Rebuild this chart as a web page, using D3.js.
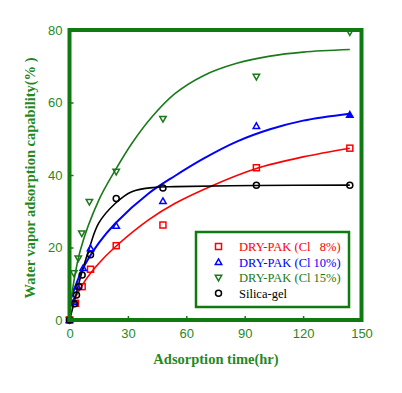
<!DOCTYPE html>
<html><head><meta charset="utf-8">
<script src="https://cdn.jsdelivr.net/npm/d3@7"></script>
<style>html,body{margin:0;padding:0;background:#fff;}svg{display:block;}</style>
</head><body>
<svg id="chart" width="402" height="393"></svg>
<script>
// ---- data ----
const xTicks = [0, 30, 60, 90, 120, 150];
const yTicks = [0, 20, 40, 60, 80];
const seriesNames = ["DRY-PAK (Cl   8%)", "DRY-PAK (Cl 10%)", "DRY-PAK (Cl 15%)", "Silica-gel"];
const seriesColors = ["#ff0000", "#0000ff", "#1a7a1a", "#000000"];
const seriesSymbols = ["square", "triUp", "triDown", "circle"];

// measured points [time(hr), capability(%)]
const cl8Points  = [[0,0],[3.1,4.6],[6.5,9.2],[10.8,14],[24,20.5],[48,26.2],[96,42],[144,47.4]];
const cl10Points = [[0,0],[2.2,5],[3.9,9.2],[7,14.3],[10.8,19.8],[24,26],[48,32.8],[96,53.5],[144,56.6]];
const cl15Points = [[0,0],[2.2,12.9],[4.5,17],[6.3,23.9],[10.2,32.6],[24,40.9],[48,55.5],[96,67.1],[144,79.4]];
const silicaPoints = [[0,0],[2.6,4.5],[3.6,6.9],[4.8,9.2],[6.5,12.4],[10.8,18],[24,33.5],[48,36.4],[96,37.2],[144,37.2]];

// fitted curves
const cl8Curve  = [[0.5,3.7],[8.2,11],[15,15.6],[23.6,20.2],[40.6,27.6],[54.3,32.2],[73.9,37.2],[96,41.8],[120,45],[144,47.4]];
const cl10Curve = [[0.5,5.5],[6.5,13.8],[15,21.2],[23.6,26.7],[40.6,34.9],[54.3,39.8],[68.8,44.5],[85.9,49.2],[103,52.6],[120,55],[144,56.9]];
const cl15Curve = [[0.5,4.6],[5.6,19.3],[15,33],[23.6,41.4],[32,48.7],[42.3,56],[54.3,62.5],[68.8,67.4],[85.9,70.8],[103,72.8],[120,73.9],[144,74.6]];
const silicaCurve = [[0.3,0.5],[1.4,2.8],[4.8,10.1],[9.9,19.3],[15,26.7],[23.6,32.2],[32,35.4],[44,36.6],[54.3,36.8],[96,37.1],[144,37.2]];

const allPoints = [cl8Points, cl10Points, cl15Points, silicaPoints];
const allCurves = [cl8Curve, cl10Curve, cl15Curve, silicaCurve];

// ---- layout ----
const axisGreen = "#0f7a0f";
const textGreen = "#1f8a1f";
const svg = d3.select("#chart");
const x = d3.scaleLinear().domain([0, 150]).range([69.5, 361.5]);
const y = d3.scaleLinear().domain([0, 80]).range([320, 30]);

// curves
const line = d3.line().x(d => x(d[0])).y(d => y(d[1])).curve(d3.curveCatmullRom.alpha(0.5));
allCurves.forEach((c, i) => {
  svg.append("path").attr("d", line(c)).attr("fill", "none")
    .attr("stroke", seriesColors[i]).attr("stroke-width", i === 1 ? 2 : 1.6);
});

// markers
function drawSymbol(g, type, cx, cy, color, filled) {
  const s = 3;
  let el;
  if (type === "square") {
    el = g.append("rect").attr("x", cx - s).attr("y", cy - s).attr("width", 2 * s).attr("height", 2 * s);
  } else if (type === "circle") {
    el = g.append("circle").attr("cx", cx).attr("cy", cy).attr("r", 3);
  } else if (type === "triUp") {
    el = g.append("path").attr("d", `M${cx},${cy - 3.2}L${cx + 3.2},${cy + 2.4}L${cx - 3.2},${cy + 2.4}Z`);
  } else {
    el = g.append("path").attr("d", `M${cx},${cy + 3.2}L${cx + 3.2},${cy - 2.4}L${cx - 3.2},${cy - 2.4}Z`);
  }
  el.attr("fill", filled ? color : "none").attr("stroke", color).attr("stroke-width", 1.5);
}
allPoints.forEach((pts, i) => {
  const g = svg.append("g");
  pts.forEach((p, j) => {
    drawSymbol(g, seriesSymbols[i], x(p[0]), y(p[1]), seriesColors[i], i === 1 && j === pts.length - 1);
  });
});

// axes
const xAxis = d3.axisBottom(x).tickValues(xTicks).tickSize(-4).tickPadding(9);
const yAxis = d3.axisLeft(y).tickValues(yTicks).tickSize(-4).tickPadding(7);
const gx = svg.append("g").attr("transform", `translate(0,${y(0)})`).call(xAxis);
const gy = svg.append("g").attr("transform", `translate(${x(0)},0)`).call(yAxis);
[gx, gy].forEach(g => {
  g.select(".domain").remove();
  g.selectAll(".tick line").attr("stroke", axisGreen).attr("stroke-width", 1.5);
  g.selectAll(".tick text").attr("fill", textGreen).attr("font-family", "Liberation Sans, Arial, sans-serif").attr("font-size", 13);
});
gx.selectAll(".tick line").filter(d => d === 0 || d === 150).remove();
gy.selectAll(".tick line").filter(d => d === 0 || d === 80).remove();

// frame
svg.append("rect").attr("x", x(0)).attr("y", y(80)).attr("width", x(150) - x(0)).attr("height", y(0) - y(80))
  .attr("fill", "none").attr("stroke", axisGreen).attr("stroke-width", 4);

// axis titles
svg.append("text").attr("x", 216).attr("y", 364).attr("text-anchor", "middle")
  .attr("font-family", "Liberation Serif, Times New Roman, serif").attr("font-weight", "bold")
  .attr("font-size", 14.5).attr("fill", textGreen).text("Adsorption time(hr)");
svg.append("text").attr("transform", "translate(35,178) rotate(-90)").attr("text-anchor", "middle")
  .attr("font-family", "Liberation Serif, Times New Roman, serif").attr("font-weight", "bold")
  .attr("font-size", 14.5).attr("fill", textGreen).text("Water vapor adsorption capability(% )");

// legend
const lg = svg.append("g");
lg.append("rect").attr("x", 196).attr("y", 232).attr("width", 153).attr("height", 75)
  .attr("fill", "#fff").attr("stroke", axisGreen).attr("stroke-width", 2.5);
seriesNames.forEach((name, i) => {
  const cy = 246.5 + i * 15.6;
  drawSymbol(lg, seriesSymbols[i], 218.5, cy, seriesColors[i], false);
  lg.append("text").attr("x", 239).attr("y", cy + 4.5)
    .attr("font-family", "Liberation Serif, Times New Roman, serif").attr("font-size", 12.5)
    .attr("fill", seriesColors[i]).style("white-space", "pre").text(name);
});
</script>
</body></html>
